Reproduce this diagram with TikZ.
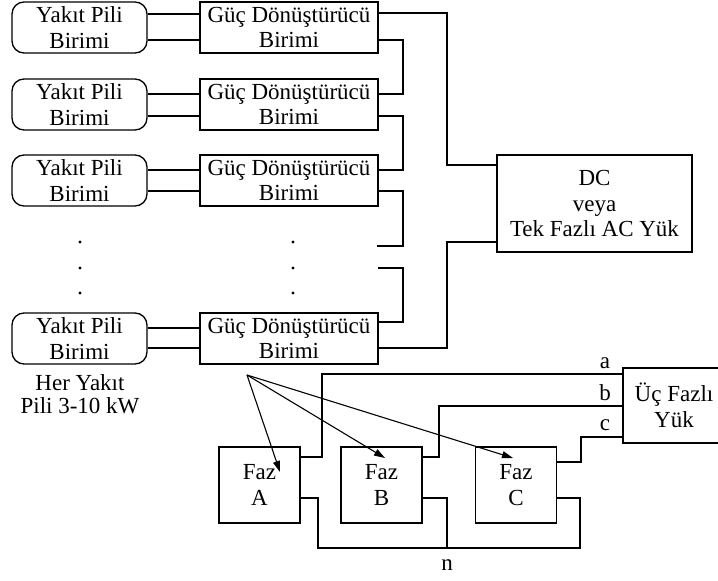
\documentclass[tikz,border=0pt]{standalone}
\usepackage{fontspec}
\setmainfont{Liberation Serif}
\usetikzlibrary{arrows.meta}

\tikzset{
  wire/.style={line width=1.3pt},
  cellbox/.style={draw, line width=1.3pt, rounded corners=12pt, minimum width=135pt,
    minimum height=51pt, inner sep=0pt, align=center},
  convbox/.style={draw, line width=1.3pt, minimum width=178pt, minimum height=51pt,
    inner sep=0pt, align=center},
  loadbox/.style={draw, line width=1.3pt, inner sep=0pt, align=center},
  phasebox/.style={draw, line width=1.3pt, minimum width=81pt, minimum height=76pt,
    inner sep=0pt, align=center},
  lbl/.style={inner sep=0pt},
  dotmark/.style={fill=black},
  ctrl/.style={line width=1.1pt, -{Triangle[length=11pt,width=7pt]}}
}

\begin{document}
\begin{tikzpicture}[x=1pt, y=-1pt, font=\fontsize{23}{25.5}\selectfont]
\useasboundingbox (0,0) rectangle (718,581);
\fill[white] (0,0) rectangle (718,581);

% fuel cell units and their converters
\node[cellbox] (y1) at (79.5,27.5)  {Yakıt Pili\\Birimi};
\node[cellbox] (y2) at (79.5,104.5) {Yakıt Pili\\Birimi};
\node[cellbox] (y3) at (79.5,180.5) {Yakıt Pili\\Birimi};
\node[cellbox] (y4) at (79.5,338.5) {Yakıt Pili\\Birimi};

\node[convbox] (g1) at (289,27.5)  {Güç Dönüştürücü\\Birimi};
\node[convbox] (g2) at (289,104.5) {Güç Dönüştürücü\\Birimi};
\node[convbox] (g3) at (289,180.5) {Güç Dönüştürücü\\Birimi};
\node[convbox] (g4) at (289,338.5) {Güç Dönüştürücü\\Birimi};

% loads
\node[loadbox, minimum width=195pt, minimum height=97pt] (dc) at (594.5,203.5)
  {DC\\veya\\Tek Fazlı AC Yük};
\node[loadbox, minimum width=102pt, minimum height=75pt] (u) at (674,405.5)
  {Üç Fazlı\\Yük};

% phase modules
\node[phasebox] (fa) at (259.5,485) {Faz\\A};
\node[phasebox] (fb) at (381.5,485) {Faz\\B};
\node[phasebox] (fc) at (516,485)   {Faz\\C};

% cell -> converter pairs
\draw[wire] (y1.east |- 0,14)  -- (g1.west |- 0,14);
\draw[wire] (y1.east |- 0,40)  -- (g1.west |- 0,40);
\draw[wire] (y2.east |- 0,94)  -- (g2.west |- 0,94);
\draw[wire] (y2.east |- 0,116) -- (g2.west |- 0,116);
\draw[wire] (y3.east |- 0,170) -- (g3.west |- 0,170);
\draw[wire] (y3.east |- 0,191) -- (g3.west |- 0,191);
\draw[wire] (y4.east |- 0,328) -- (g4.west |- 0,328);
\draw[wire] (y4.east |- 0,348) -- (g4.west |- 0,348);

% series chain of converter outputs
\coordinate (s1) at (377,246);
\coordinate (s2) at (378,268);
\draw[wire] (g1.east |- 0,13)  -| (447,165) -- (dc.west |- 0,165);
\draw[wire] (g1.east |- 0,40)  -| (403,94)  -- (g2.east |- 0,94);
\draw[wire] (g2.east |- 0,116) -| (403,170) -- (g3.east |- 0,170);
\draw[wire] (g3.east |- 0,191) -| (403,246) -- (s1);
\draw[wire] (s2) -| (403,322) -- (g4.east |- 0,322);
\draw[wire] (g4.east |- 0,348) -| (447,242) -- (dc.west |- 0,242);

% continuation dots
\foreach \px in {80,293}{
  \foreach \py in {242,268,293}{
    \fill[dotmark] (\px,\py) circle (1.6pt);
  }
}

\node[lbl, align=center, font=\fontsize{23}{23}\selectfont] (note) at (80,394)
  {Her Yakıt\\Pili 3-10 kW};

% three-phase outputs
\draw[wire] (fa.east |- 0,457) -| (322,374) -- (u.west |- 0,374);
\draw[wire] (fb.east |- 0,457) -| (439,406) -- (u.west |- 0,406);
\draw[wire] (fc.east |- 0,462) -| (581,437) -- (u.west |- 0,437);
\node[lbl] (la) at (605,363) {a};
\node[lbl] (lb) at (605,393) {b};
\node[lbl] (lc) at (605,425) {c};

% neutral
\coordinate (nj) at (447,548);
\draw[wire] (fa.east |- 0,498) -| (318,548) -- (nj) -| (580,498) -- (fc.east |- 0,498);
\draw[wire] (fb.east |- 0,498) -| (nj);
\node[lbl] (ln) at (447,565) {n};

% converter feeding the phase modules
\coordinate (src) at (247,375);
\coordinate (ta) at (280,472);
\coordinate (tb) at (385,458);
\coordinate (tc) at (513,458);
\draw[ctrl] (src) -- (ta);
\draw[ctrl] (src) -- (tb);
\draw[ctrl] (src) -- (tc);
\end{tikzpicture}
\end{document}
